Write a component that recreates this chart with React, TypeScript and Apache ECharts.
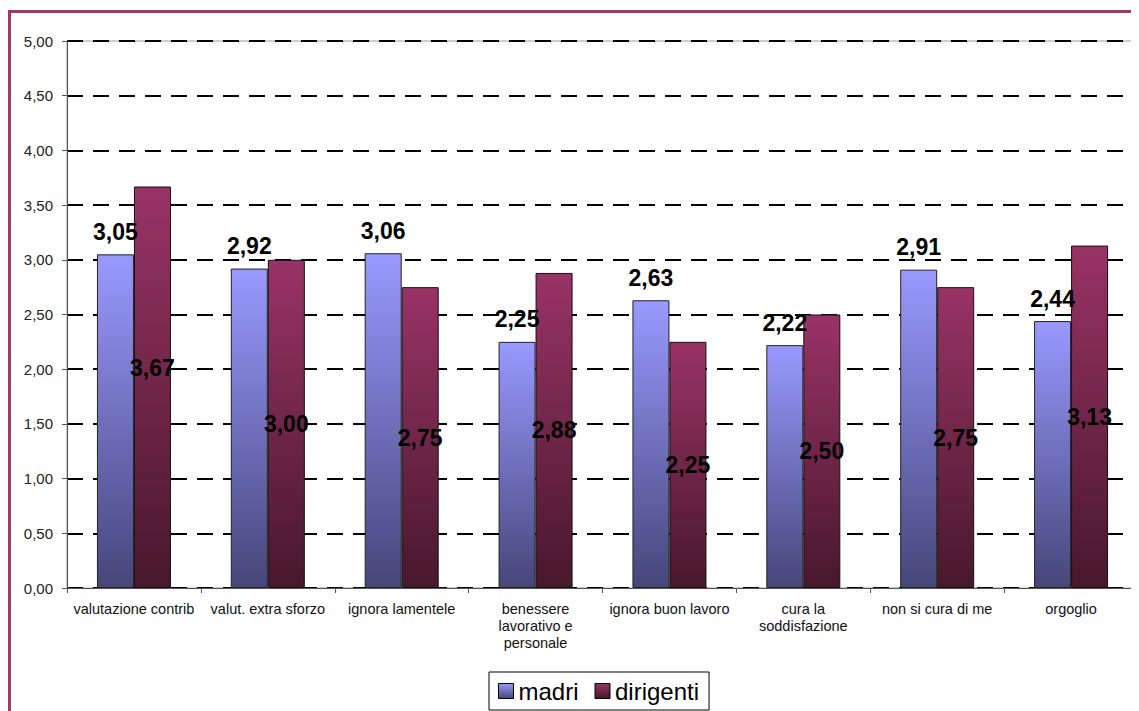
import React, { useEffect, useRef } from "react";
import * as echarts from "echarts";

const categories = [
  "valutazione contrib",
  "valut. extra sforzo",
  "ignora lamentele",
  "benessere\nlavorativo e\npersonale",
  "ignora buon lavoro",
  "cura la\nsoddisfazione",
  "non si cura di me",
  "orgoglio",
];
const madri = [3.05, 2.92, 3.06, 2.25, 2.63, 2.22, 2.91, 2.44];
const dirigenti = [3.67, 3.0, 2.75, 2.88, 2.25, 2.5, 2.75, 3.13];

const FONT = "Arial, 'Liberation Sans', sans-serif";
const fmt = (v: number) => v.toFixed(2).replace(".", ",");

const grad = (top: string, bottom: string) =>
  new echarts.graphic.LinearGradient(0, 0, 0, 1, [
    { offset: 0, color: top },
    { offset: 1, color: bottom },
  ]);

export default function App() {
  const ref = useRef<HTMLDivElement>(null);

  useEffect(() => {
    if (!ref.current) return;
    const chart = echarts.init(ref.current, undefined, { renderer: "svg" });

    const labelStyle = {
      show: true,
      fontFamily: FONT,
      fontSize: 23,
      fontWeight: "bold" as const,
      color: "#000",
      formatter: (p: any) => fmt(p.value),
    };

    chart.setOption({
      animation: false,
      backgroundColor: "#fff",
      textStyle: { fontFamily: FONT },
      grid: {
        left: 59,
        right: 1,
        top: 33,
        bottom: 123,
        show: true,
        borderColor: "#9a9a9a",
        borderWidth: 1,
      },
      graphic: [
        {
          type: "rect",
          shape: { x: 1.5, y: 3.5, width: 1300, height: 900 },
          style: { fill: "none", stroke: "#a0386c", lineWidth: 3 },
          silent: true,
        },
      ],
      legend: {
        top: 664,
        left: 481,
        itemWidth: 15,
        itemHeight: 15,
        itemGap: 16,
        padding: [7, 10, 7, 9],
        borderColor: "#000",
        borderWidth: 1,
        textStyle: { fontFamily: FONT, fontSize: 24, color: "#000" },
        data: [
          { name: "madri", icon: "rect", itemStyle: { borderColor: "#000", borderWidth: 1 } },
          { name: "dirigenti", icon: "rect", itemStyle: { borderColor: "#000", borderWidth: 1 } },
        ],
      },
      xAxis: {
        type: "category",
        data: categories,
        boundaryGap: true,
        axisLine: { lineStyle: { color: "#555", width: 1 } },
        axisTick: { show: true, length: 5, lineStyle: { color: "#555" } },
        axisLabel: {
          interval: 0,
          margin: 12,
          fontFamily: FONT,
          fontSize: 14.5,
          lineHeight: 17,
          color: "#111",
        },
      },
      yAxis: {
        type: "value",
        min: 0,
        max: 5,
        interval: 0.5,
        axisLine: { show: true, lineStyle: { color: "#555", width: 1 } },
        axisTick: { show: true, length: 5, lineStyle: { color: "#555" } },
        axisLabel: {
          margin: 14,
          fontFamily: FONT,
          fontSize: 15,
          color: "#222",
          formatter: (v: number) => fmt(v),
        },
        splitLine: {
          show: true,
          lineStyle: { color: "#000", width: 2, type: [16, 10] },
        },
      },
      series: [
        {
          name: "madri",
          type: "bar",
          barWidth: 37,
          barGap: "0%",
          data: madri,
          itemStyle: {
            color: grad("#9999ff", "#46467a"),
            borderColor: "#222",
            borderWidth: 1,
          },
          label: { ...labelStyle, position: "top", distance: 11 },
        },
        {
          name: "dirigenti",
          type: "bar",
          barWidth: 37,
          data: dirigenti.map((v, i) =>
            i === 0 ? { value: v, label: { offset: [0, -19] } } : v
          ),
          itemStyle: {
            color: grad("#993366", "#48182c"),
            borderColor: "#111",
            borderWidth: 1,
          },
          label: { ...labelStyle, position: "inside" },
        },
      ],
    });

    return () => chart.dispose();
  }, []);

  return <div ref={ref} style={{ width: 1131, height: 703 }} />;
}
